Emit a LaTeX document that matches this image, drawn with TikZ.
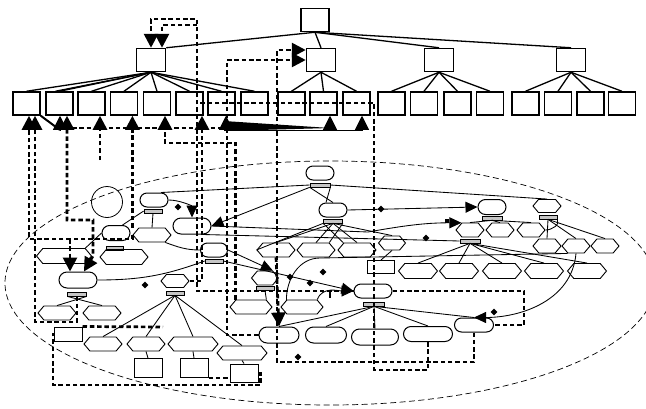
\documentclass[tikz,border=0pt]{standalone}
\usetikzlibrary{shapes.geometric,shapes.misc,shapes.symbols,arrows.meta}
\begin{document}
\begin{tikzpicture}[x=1pt,y=-1pt,
  bx/.style={draw, line width=1.5pt, minimum width=27pt, minimum height=23pt, inner sep=0pt},
  tl/.style={line width=1.3pt},
  capn/.style={draw, rounded rectangle, line width=1pt, minimum height=14pt, inner sep=0pt},
  hexa/.style={draw, signal, signal to=east and west, signal pointer angle=100, line width=0.9pt, minimum height=14pt, inner sep=0pt},
  barr/.style={draw, fill=gray!45, line width=0.7pt, minimum width=18pt, minimum height=4pt, inner sep=0pt},
  sbox/.style={draw, line width=1pt, minimum width=28pt, minimum height=14pt, inner sep=0pt},
  sl/.style={line width=0.85pt},
  dl/.style={line width=2.7pt, dash pattern=on 4.5pt off 2.8pt},
  atip/.style={-{Triangle[length=14pt,width=14pt]}},
  atipb/.style={{Triangle[length=14pt,width=14pt]}-{Triangle[length=14pt,width=14pt]}},
  stip/.style={-{Triangle[length=12pt,width=11pt]}},
  dia/.style={diamond, fill=black, inner sep=0pt, minimum size=7pt},
]
\useasboundingbox (0,0) rectangle (646,408);
\node[draw, ellipse, dash pattern=on 6pt off 3.5pt, line width=0.7pt, minimum width=650pt, minimum height=244pt, inner sep=0pt] (ell) at (330,283) {};

% ---------- top tree ----------
\node[bx, minimum width=28pt] (root) at (315,20) {};
\node[bx, minimum width=29pt] (m1) at (151,60) {};
\node[bx, minimum width=29pt] (m2) at (321,60) {};
\node[bx, minimum width=29pt] (m3) at (439,60) {};
\node[bx, minimum width=29pt] (m4) at (571,60) {};
\foreach \i/\x in {1/26.5,2/59.5,3/91.5,4/124,5/157,6/189.5,7/221.5,8/254.5,9/291.5,10/323.5,11/356.5,12/391.5,13/424,14/457.5,15/490,16/525.5,17/558,18/590.5,19/622}
  \node[bx] (b\i) at (\x,103.5) {};
\draw[tl] (root.south) -- (m1.north east);
\foreach \m in {m2,m3,m4} \draw[tl] (root.south) -- (\m.north);
\foreach \i in {1,...,8} \draw[tl] (m1.south) -- (b\i.north);
\draw[tl] (m1.south) -- ([xshift=-4pt]b2.north);
\foreach \i in {9,10,11} \draw[tl] (m2.south) -- (b\i.north);
\foreach \i in {12,...,15} \draw[tl] (m3.south) -- (b\i.north);
\foreach \i in {16,...,19} \draw[tl] (m4.south) -- (b\i.north);

% ---------- lower nodes ----------
\node[draw, circle, minimum size=31pt, inner sep=0pt, line width=0.8pt] (cir) at (107,202) {};
\node[capn, minimum width=28pt] (cA) at (154,200) {};
\node[barr] (barA) at (153,211) {};
\node[capn, minimum width=38pt, minimum height=16pt] (cB) at (192,226) {};
\node[capn, minimum width=28pt, minimum height=15pt] (cC) at (116,233) {};
\node[barr, minimum width=17pt] (barC) at (115,248) {};
\node[hexa, minimum width=38pt] (hD) at (152,235) {};
\node[hexa, minimum width=55pt, minimum height=15pt] (hE) at (64,256) {};
\node[hexa, minimum width=48pt, minimum height=15pt] (hF) at (124,257) {};
\node[capn, minimum width=38pt, minimum height=16pt] (cG) at (78,280) {};
\node[barr, minimum width=19pt] (barG) at (77,294) {};
\node[hexa, minimum width=38pt] (hH1) at (57,313) {};
\node[hexa, minimum width=38pt] (hH2) at (102,313) {};
\node[sbox] (bxI) at (68,334) {};
\node[hexa, minimum width=28pt, minimum height=13pt] (hJ) at (175,281) {};
\node[barr] (barJ) at (175,293) {};
\node[hexa, minimum width=38pt] (hK1) at (103,344) {};
\node[hexa, minimum width=38pt] (hK2) at (146,344) {};
\node[hexa, minimum width=50pt] (hK3) at (193,344) {};
\node[hexa, minimum width=50pt] (hK4) at (242,353) {};
\node[sbox, minimum height=19pt] (bxL1) at (148,368) {};
\node[sbox, minimum height=19pt] (bxL2) at (194,368) {};
\node[sbox, minimum height=18pt] (bxL3) at (244,373) {};
\node[hexa, minimum width=42pt] (hM1) at (251,307) {};
\node[hexa, minimum width=42pt] (hM2) at (302,307) {};
\node[hexa, minimum width=27pt] (hX) at (265,278) {};
\node[barr] (barX) at (265,288) {};
\node[capn, minimum width=40pt, minimum height=16pt] (cN1) at (279,335) {};
\node[capn, minimum width=41pt, minimum height=16pt] (cN2) at (326,335) {};
\node[capn, minimum width=47pt, minimum height=16pt] (cN3) at (375,337) {};
\node[capn, minimum width=49pt, minimum height=15pt] (cN4) at (428,334) {};
\node[capn, minimum width=39pt] (cN5) at (474,325) {};
\node[capn, minimum width=38pt] (cO) at (373,291) {};
\node[barr, minimum width=21pt] (barO) at (374,304) {};
\node[capn, minimum width=28pt] (cP) at (320,173) {};
\node[barr, minimum width=20pt] (barP) at (320,185) {};
\node[capn, minimum width=28pt] (cQ) at (333,210) {};
\node[barr, minimum width=19pt] (barQ) at (333,221) {};
\node[hexa, minimum width=38pt] (hR1) at (276,250) {};
\node[hexa, minimum width=38pt] (hR2) at (316,250) {};
\node[hexa, minimum width=38pt] (hR3) at (357,250) {};
\node[hexa, minimum width=27pt] (hW) at (392,243) {};
\node[sbox, minimum width=27pt, minimum height=13pt] (bxR) at (381,267) {};
\node[capn, minimum width=27pt] (cS) at (214,250) {};
\node[barr] (barS) at (214,261) {};
\node[capn, minimum width=28pt, minimum height=15pt] (cT) at (492,207) {};
\node[barr, minimum width=20pt] (barT) at (492,218) {};
\node[hexa, minimum width=28pt, minimum height=13pt] (hU) at (547,206) {};
\node[barr] (barU) at (548,217) {};
\foreach \i/\x in {1/470,2/500,3/531} \node[hexa, minimum width=28pt] (hV\i) at (\x,230) {};
\node[barr, minimum width=20pt] (barV) at (470,241) {};
\foreach \i/\x in {1/547,2/576,3/605} \node[hexa, minimum width=28pt] (hY\i) at (\x,246) {};
\foreach \i/\x in {1/418,2/459,3/502,4/544,5/587} \node[hexa, minimum width=39pt, minimum height=15pt] (hZ\i) at (\x,271) {};

% ---------- solid connectors ----------
\draw[sl] (barA.south) -- (hD.north);
\draw[sl] (cC.north east) -- (barA.west);
\draw[sl] (cC.west) -- (hE.north east);
\draw[sl] (barC.south) -- (hF.north);
\draw[sl] (cA.north east) -- (barP.west);
\draw[sl] (barP.east) -- (hU.north);
\draw[sl,stip] (cA.east) to[out=0,in=90] (cB.north);
\draw[sl,stip] (barP.south west) -- (cB.east);
\draw[sl] (barP.south west) -- (cQ.north);
\draw[sl] (barP.south east) -- (cQ.north west);
\foreach \h in {hR1,hR2,hR3,hW} \draw[sl] (barQ.south) -- (\h.north);
\draw[sl] (barQ.south west) -- (hR3.north west);
\draw[sl] (barQ.south east) -- (hR2.north east);
\draw[sl] (barQ.south west) -- (hR1.west);
\draw[sl,stip] (cQ.east) -- (cT.west);
\draw[sl] (cB.south east) -- (barV.west);
\draw[sl,stip] (cB.east) -- (368,232) to[out=10,in=180] (hV1.north west);
\draw[sl] (hD.south east) to[out=-20,in=180] (cS.west);
\draw[sl] (cG.east) to[out=0,in=200] (barS.west);
\draw[sl,stip] (cS.east) -- (hX.north east);
\draw[sl,stip] (barS.east) -- (cO.west);
\draw[sl,stip] (hM2.north east) to[out=70,in=180] (cO.west);
\draw[sl] (hM2.north west) to[out=90,in=180] (320,258) -- (hY2.south west);
\draw[sl] (barX.south) -- (hM1.north east);
\draw[sl] (barG.south east) -- (hH1.north);
\draw[sl] (barG.south west) -- (hH2.north);
\foreach \k in {hK1,hK2,hK3,hK4} \draw[sl] (barJ.south) -- (\k.north);
\draw[sl] (hK2.south) -- (bxL1.north);
\draw[sl] (hK3.south) -- (bxL2.north);
\draw[sl] (hK4.south) -- (bxL3.north);
\foreach \i in {1,...,5} \draw[sl] (barO.south) -- (cN\i.north);
\foreach \i in {1,2,3} \draw[sl] (barT.south) -- (hV\i.north);
\foreach \i in {1,2,3} \draw[sl] (barU.south) -- (hY\i.north);
\draw[sl] (barU.south east) to[out=-60,in=0] (hV3.east);
\foreach \i in {1,...,5} \draw[sl] (barV.south) -- (hZ\i.north);
\draw[sl,stip] (hY2.south) to[out=-95,in=0] (cN5.north);
\draw[sl] (bxR.north) -- (hW.south);

% ---------- dashed connectors ----------
\draw[dl,atip] (cO.west) -- (197,291) -- (197,19) -- (151,19) -- (m1.north);
\coordinate (j1) at (197,25);
\draw[dl,atip] (j1) -- (162,25) -- ([xshift=11pt]m1.north);
\draw[dl] (cN4.south) |- (374,370) -- (374,103) -- (197,103);
\draw[dl,atip] (cN5.south) |- (277,362) -- (277,50) -- ([yshift=10pt]m2.west);
\draw[dl,atip] (cN1.west) -- (227,335) -- (227,60) -- (m2.west);
\draw[dl,atip] (hR1.south) -- (cN1.north);
\draw[dl,atip] (hM1.north west) |- (165,143) -- ([xshift=8pt]b5.south);
\draw[dl,atip] (hJ.east) -| ([xshift=12.5pt]b6.south);
\draw[dl,atip] (hD.west |- hD.north) -- (hD.west |- b4.south);
\coordinate (s3) at (100,160);
\draw[dl,atip] (s3) -- (b3.south -| s3);
\draw[dl,atip] (barG.south) |- (35,322) -- ([xshift=8.5pt]b1.south);
\draw[dl,atip] (hD.west) -- ++(0,4) -- (29,239) -- ([xshift=2.5pt]b1.south);
\coordinate (s1b) at (70,239);
\draw[dl,atip] (s1b) -- ([xshift=-8pt]cG.north);
\draw[dl,atipb] ([xshift=7.5pt]b2.south) -- (67,220) -- (93,220) -- (93,256) -- ([xshift=6pt]cG.north);
\coordinate (h1) at (72,128);
\coordinate (h2) at (232,128);
\draw[dl] (h1) -- (h2);
\draw[dl] (bxL3.east) -- ++(2,0) |- (53,385) |- (bxI.west);
\coordinate (e13) at (163,327);
\draw[dl] (bxI.north east) -- (e13);
\draw[dl] (bxL2.south east) -- (bxL3.west |- bxL2.south east);
\draw[dl] (cO.east) -| ([xshift=30pt]cN5.east) -- (cN5.east);

% ---------- arrows under the boxes ----------
\fill (224,121) -- (330,128) -- (224,131) -- cycle;
\coordinate (w7) at (226,130);
\coordinate (w10) at (330,130);
\coordinate (w11) at (362,130);
\coordinate (wb) at (60,130);
\draw[sl,atip] (w7) -- (b7.south -| w7);
\draw[sl] (w7) -- (w11);
\draw[sl,atip] (w10) -- (b10.south -| w10);
\draw[sl,atip] (w11) -- (b11.south -| w11);
\draw[line width=2pt] (b1.south east) -- (wb);
\draw[sl,atip] (wb) -- (b2.south -| wb);

% ---------- small marks ----------
\foreach \n/\x/\y in {d1/178/207, d2/381/209, d3/426/238, d4/145/285, d5/290/277, d6/310/283, d7/323/272, d8/298/357, d9/494/312}
  \node[dia] (\n) at (\x,\y) {};
\node[fill, minimum size=4.5pt, inner sep=0pt] (sq) at (447,221) {};
\node[fill, minimum width=2.5pt, minimum height=8pt, inner sep=0pt] (mk) at (330,294) {};
\end{tikzpicture}
\end{document}
